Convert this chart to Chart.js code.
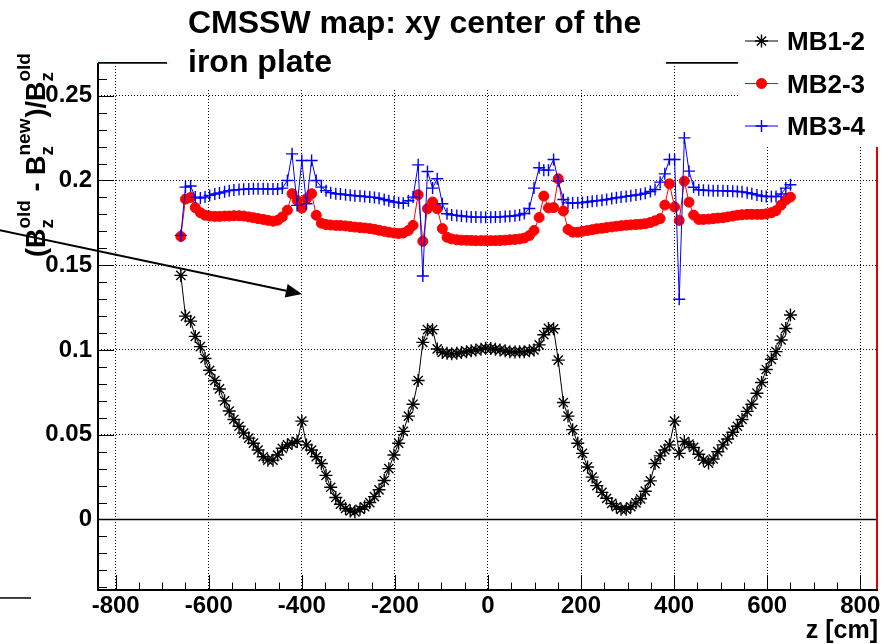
<!DOCTYPE html>
<html>
<head>
<meta charset="utf-8">
<script src="https://cdn.jsdelivr.net/npm/chart.js@4.4.0/dist/chart.umd.min.js"></script>
<style>
  html, body { margin: 0; padding: 0; background: #fff; }
  #wrap { position: relative; width: 893px; height: 644px; }
</style>
</head>
<body>
<div id="wrap"><canvas id="fieldChart" width="893" height="644"></canvas></div>
<script>
// z position of each sample along the iron plate (cm)
const zPoints = [
  -660, -650, -639, -629, -618, -608, -598, -587, -577, -566,
  -556, -546, -535, -525, -514, -504, -494, -483, -473, -462,
  -452, -442, -431, -421, -410, -400, -390, -379, -369, -358,
  -348, -338, -327, -317, -306, -296, -286, -275, -265, -254,
  -244, -234, -223, -213, -202, -192, -182, -171, -161, -150,
  -140, -130, -119, -109, -98, -88, -78, -67, -57, -46,
  -36, -26, -15, -5, 6, 16, 26, 37, 47, 58,
  68, 78, 89, 99, 110, 120, 130, 141, 151, 162,
  172, 182, 193, 203, 214, 224, 234, 245, 255, 266,
  276, 286, 297, 307, 318, 328, 338, 349, 359, 370,
  380, 390, 401, 411, 422, 432, 442, 453, 463, 474,
  484, 494, 505, 515, 526, 536, 546, 557, 567, 578,
  588, 598, 609, 619, 630, 640, 650
];

// relative Bz difference between old and new map, per station gap
const mb12 = [
  0.144, 0.120, 0.117, 0.108, 0.102, 0.095, 0.088, 0.082, 0.077, 0.070,
  0.064, 0.059, 0.055, 0.051, 0.048, 0.045, 0.041, 0.037, 0.035, 0.035,
  0.038, 0.042, 0.044, 0.045, 0.046, 0.058, 0.044, 0.041, 0.037, 0.033,
  0.026, 0.019, 0.013, 0.009, 0.0065, 0.005, 0.0045, 0.006, 0.0075, 0.010,
  0.0135, 0.0175, 0.023, 0.030, 0.038, 0.045, 0.052, 0.061, 0.068, 0.082,
  0.1045, 0.112, 0.112, 0.1006, 0.0985, 0.098, 0.0978, 0.098, 0.0985, 0.099,
  0.0995, 0.100, 0.1005, 0.101, 0.1008, 0.1005, 0.100, 0.0995, 0.099, 0.0988,
  0.099, 0.099, 0.0995, 0.100, 0.103, 0.109, 0.1127, 0.1125, 0.094, 0.069,
  0.061, 0.053, 0.045, 0.039, 0.031, 0.025, 0.020, 0.016, 0.0125, 0.0095,
  0.0075, 0.006, 0.006, 0.0075, 0.0098, 0.0122, 0.0167, 0.0228, 0.033, 0.0375,
  0.041, 0.044, 0.058, 0.039, 0.046, 0.0445, 0.0425, 0.0385, 0.035, 0.0333,
  0.0357, 0.040, 0.044, 0.0475, 0.0515, 0.055, 0.059, 0.0638, 0.068, 0.0745,
  0.0808, 0.0885, 0.0945, 0.099, 0.1059, 0.1127, 0.1206
];
const mb23 = [
  0.167, 0.189, 0.190, 0.184, 0.181, 0.1795, 0.179, 0.1788, 0.1788, 0.179,
  0.179, 0.1792, 0.1792, 0.179, 0.1785, 0.178, 0.1775, 0.177, 0.1765, 0.176,
  0.1765, 0.1785, 0.1825, 0.1922, 0.1882, 0.1837, 0.1892, 0.1922, 0.1795, 0.1748,
  0.174, 0.1737, 0.1735, 0.1734, 0.1732, 0.1728, 0.1725, 0.1722, 0.172, 0.1716,
  0.1712, 0.1706, 0.170, 0.1695, 0.169, 0.1687, 0.169, 0.1705, 0.1735, 0.1916,
  0.1641, 0.1833, 0.1873, 0.1833, 0.1716, 0.1665, 0.1655, 0.165, 0.1648, 0.1647,
  0.1646, 0.1645, 0.1645, 0.1645, 0.1645, 0.1645, 0.1646, 0.1648, 0.165, 0.1652,
  0.1655, 0.166, 0.1675, 0.1705, 0.1782, 0.1908, 0.1838, 0.184, 0.201, 0.182,
  0.1711, 0.1695, 0.1695, 0.170, 0.1705, 0.171, 0.1715, 0.1718, 0.1722, 0.1726,
  0.173, 0.1733, 0.1736, 0.1738, 0.174, 0.1742, 0.1745, 0.1752, 0.1762, 0.1775,
  0.1855, 0.198, 0.1843, 0.1764, 0.1996, 0.1872, 0.1796, 0.177, 0.177, 0.1772,
  0.1775, 0.1778, 0.178, 0.1785, 0.179, 0.1795, 0.1798, 0.180, 0.180, 0.180,
  0.180, 0.1803, 0.181, 0.1822, 0.1855, 0.1885, 0.1902
];
const mb34 = [
  0.1676, 0.1961, 0.1967, 0.1902, 0.1896, 0.1902, 0.1912, 0.192, 0.1926, 0.1933,
  0.194, 0.1944, 0.1946, 0.1948, 0.195, 0.1951, 0.1951, 0.1951, 0.195, 0.1949,
  0.195, 0.1955, 0.200, 0.2157, 0.1853, 0.2118, 0.1863, 0.2118, 0.200, 0.1961,
  0.194, 0.1928, 0.1922, 0.192, 0.1916, 0.1913, 0.191, 0.1908, 0.1905, 0.1902,
  0.190, 0.1895, 0.1888, 0.188, 0.1873, 0.1869, 0.1865, 0.188, 0.1902, 0.2092,
  0.1436, 0.2053, 0.1955, 0.201, 0.1863, 0.1804, 0.1797, 0.1794, 0.179, 0.1787,
  0.1785, 0.1784, 0.1783, 0.1783, 0.1783, 0.1784, 0.1785, 0.1787, 0.1789, 0.1792,
  0.1797, 0.1805, 0.1835, 0.1955, 0.2075, 0.2061, 0.2061, 0.2124, 0.1996, 0.1888,
  0.1868, 0.1867, 0.1868, 0.187, 0.1873, 0.1877, 0.188, 0.1884, 0.1888, 0.1893,
  0.1898, 0.1902, 0.1906, 0.191, 0.1914, 0.1918, 0.1925, 0.1935, 0.1947, 0.199,
  0.2039, 0.2124, 0.2124, 0.1299, 0.2251, 0.2055, 0.196, 0.1945, 0.1942, 0.1941,
  0.194, 0.194, 0.1939, 0.1938, 0.1937, 0.1935, 0.1933, 0.1928, 0.1922, 0.1915,
  0.1908, 0.1905, 0.1905, 0.1905, 0.192, 0.1955, 0.1975
];

const seriesNames = ['MB1-2', 'MB2-3', 'MB3-4'];
const xTicks = [-800, -600, -400, -200, 0, 200, 400, 600, 800];
const xTickLabels = ['-800', '-600', '-400', '-200', '0', '200', '400', '600', '800'];
const yTicks = [0, 0.05, 0.1, 0.15, 0.2, 0.25];
const yTickLabels = ['0', '0.05', '0.1', '0.15', '0.2', '0.25'];
const titleLines = ['CMSSW map: xy center of the', 'iron plate'];
const xTitle = 'z [cm]';

const xRange = [-838, 836];
const yRange = [-0.0416, 0.2693];

// arrow annotation, in axis units
const arrowFrom = { z: -1050, v: 0.1707 };
const arrowTo = { z: -400, v: 0.133 };

const FONT = "'Liberation Sans', Arial, Helvetica, sans-serif";

function toPoints(values) {
  return values.map((v, i) => ({ x: zPoints[i], y: v }));
}

// ROOT-like frame: inner ticks, zero line, arrow, title and legend panes
const rootDecor = {
  id: 'rootDecor',
  beforeDatasetsDraw(chart) {
    const { ctx, chartArea: a, scales: { y } } = chart;
    const y0 = Math.round(y.getPixelForValue(0)) + 0.5;
    ctx.save();
    ctx.strokeStyle = '#000';
    ctx.lineWidth = 1.5;
    ctx.beginPath();
    ctx.moveTo(a.left, y0);
    ctx.lineTo(a.right, y0);
    ctx.stroke();
    ctx.restore();
  },
  afterDraw(chart) {
    const { ctx, chartArea: a, scales: { x, y } } = chart;
    ctx.save();

    // frame
    ctx.lineWidth = 2;
    ctx.strokeStyle = '#e00000';
    ctx.beginPath();
    ctx.moveTo(a.right, a.bottom);
    ctx.lineTo(a.right, a.top);
    ctx.lineTo(a.left, a.top);
    ctx.stroke();
    ctx.strokeStyle = '#000';
    ctx.lineWidth = 1;
    ctx.beginPath();
    ctx.moveTo(a.left, a.top - 0.5);
    ctx.lineTo(a.right, a.top - 0.5);
    ctx.stroke();
    ctx.lineWidth = 2;
    ctx.beginPath();
    ctx.moveTo(a.left, a.top);
    ctx.lineTo(a.left, a.bottom);
    ctx.lineTo(a.right + 1, a.bottom);
    ctx.stroke();

    // inner ticks
    ctx.lineWidth = 1;
    ctx.beginPath();
    for (let v = -0.04; v <= 0.265; v += 0.01) {
      const vv = Math.round(v * 100) / 100;
      const major = Math.abs(vv * 20 - Math.round(vv * 20)) < 1e-6;
      const py = Math.round(y.getPixelForValue(vv)) + 0.5;
      ctx.moveTo(a.left, py);
      ctx.lineTo(a.left + (major ? 16 : 9), py);
    }
    for (let v = -800; v <= 800; v += 50) {
      const major = v % 200 === 0;
      const px = Math.round(x.getPixelForValue(v)) + 0.5;
      ctx.moveTo(px, a.bottom);
      ctx.lineTo(px, a.bottom - (major ? 15 : 7.5));
    }
    ctx.stroke();

    // arrow
    const ax0 = x.getPixelForValue(arrowFrom.z), ay0 = y.getPixelForValue(arrowFrom.v);
    const ax1 = x.getPixelForValue(arrowTo.z), ay1 = y.getPixelForValue(arrowTo.v);
    const ang = Math.atan2(ay1 - ay0, ax1 - ax0);
    const headLen = 16, headHalf = 7;
    const bx = ax1 - headLen * Math.cos(ang), by = ay1 - headLen * Math.sin(ang);
    ctx.lineWidth = 2;
    ctx.beginPath();
    ctx.moveTo(ax0, ay0);
    ctx.lineTo(bx, by);
    ctx.stroke();
    ctx.fillStyle = '#000';
    ctx.beginPath();
    ctx.moveTo(ax1, ay1);
    ctx.lineTo(bx + headHalf * Math.sin(ang), by - headHalf * Math.cos(ang));
    ctx.lineTo(bx - headHalf * Math.sin(ang), by + headHalf * Math.cos(ang));
    ctx.closePath();
    ctx.fill();

    // short line at lower left
    const ly = y.getPixelForValue(-0.0463);
    ctx.lineWidth = 1.5;
    ctx.beginPath();
    ctx.moveTo(x.getPixelForValue(-1050), ly);
    ctx.lineTo(x.getPixelForValue(-982), ly);
    ctx.stroke();

    // title pane
    ctx.fillStyle = '#fff';
    ctx.fillRect(167, 0, 499, 89);
    ctx.fillStyle = '#000';
    ctx.font = 'bold 32px ' + FONT;
    ctx.textAlign = 'left';
    ctx.textBaseline = 'alphabetic';
    ctx.fillText(titleLines[0], 188, 33);
    ctx.fillText(titleLines[1], 188, 72);

    // legend pane
    ctx.fillStyle = '#fff';
    ctx.fillRect(738, 0, 155, 147);
    ctx.font = 'bold 26px ' + FONT;
    chart.data.datasets.forEach((ds, i) => {
      const cy = 41 + i * 42.5;
      ctx.strokeStyle = ds.borderColor;
      ctx.lineWidth = 1;
      ctx.beginPath();
      ctx.moveTo(745, cy);
      ctx.lineTo(778, cy);
      ctx.stroke();
      ctx.fillStyle = ds.pointBackgroundColor;
      ctx.lineWidth = ds.pointBorderWidth;
      Chart.helpers.drawPoint(ctx, {
        pointStyle: ds.pointStyle, radius: ds.pointRadius, rotation: 0,
        borderWidth: ds.pointBorderWidth
      }, 761.5, cy);
      ctx.fillStyle = '#000';
      ctx.fillText(ds.label, 787, cy + 9);
    });

    // x axis title
    ctx.font = 'bold 25px ' + FONT;
    ctx.textAlign = 'right';
    ctx.fillText(xTitle, 878, 638);

    // y axis title (B_z^old - B_z^new)/B_z^old, rotated
    ctx.translate(45, 257);
    ctx.rotate(-Math.PI / 2);
    ctx.textAlign = 'left';
    const big = 'bold 27px ' + FONT, small = 'bold 19px ' + FONT;
    let cx = 0;
    const put = (txt, f, dy) => { ctx.font = f; ctx.fillText(txt, cx, dy); return ctx.measureText(txt).width; };
    const bzScript = (sup) => {
      ctx.font = small;
      const w1 = ctx.measureText(sup).width, w2 = ctx.measureText('z').width;
      ctx.fillText(sup, cx, -15);
      ctx.fillText('z', cx, 8);
      cx += Math.max(w1, w2) + 1;
    };
    cx += put('(B', big, 0);
    bzScript('old');
    cx += put(' - B', big, 0);
    bzScript('new');
    cx += put(')/B', big, 0);
    bzScript('old');

    ctx.restore();
  }
};

const dsBase = { showLine: true, fill: false, tension: 0, borderWidth: 1 };

new Chart(document.getElementById('fieldChart'), {
  type: 'line',
  data: {
    datasets: [
      Object.assign({}, dsBase, {
        label: seriesNames[0], data: toPoints(mb12),
        borderColor: '#000000', pointBorderColor: '#000000', pointBackgroundColor: '#000000',
        pointStyle: 'star', pointRadius: 6.5, pointBorderWidth: 1.4, order: 2
      }),
      Object.assign({}, dsBase, {
        label: seriesNames[1], data: toPoints(mb23),
        borderColor: '#ff0000', pointBorderColor: '#ff0000', pointBackgroundColor: '#ff0000',
        pointStyle: 'circle', pointRadius: 5, pointBorderWidth: 1, order: 1
      }),
      Object.assign({}, dsBase, {
        label: seriesNames[2], data: toPoints(mb34),
        borderColor: '#0000ff', pointBorderColor: '#0000ff', pointBackgroundColor: '#0000ff',
        pointStyle: 'cross', pointRadius: 6, pointBorderWidth: 1.4, order: 0
      })
    ]
  },
  options: {
    responsive: false,
    animation: false,
    devicePixelRatio: 1,
    layout: { padding: { top: 63, right: 16, left: 0, bottom: 0 } },
    plugins: { legend: { display: false }, tooltip: { enabled: false }, title: { display: false } },
    scales: {
      x: {
        type: 'linear',
        min: xRange[0], max: xRange[1],
        afterFit(s) { s.height = 54; },
        afterBuildTicks(s) { s.ticks = xTicks.map(v => ({ value: v })); },
        grid: { color: '#000', lineWidth: 1, drawTicks: false },
        border: { display: false, dash: [1, 2] },
        ticks: {
          color: '#000', padding: 2, maxRotation: 0, autoSkip: false,
          font: { family: FONT, size: 24, weight: 'bold' },
          callback: (v) => xTickLabels[xTicks.indexOf(v)]
        }
      },
      y: {
        type: 'linear',
        min: yRange[0], max: yRange[1],
        afterFit(s) { s.width = 98; },
        afterBuildTicks(s) { s.ticks = yTicks.map(v => ({ value: v })); },
        grid: { color: '#000', lineWidth: 1, drawTicks: false },
        border: { display: false, dash: [1, 2] },
        ticks: {
          color: '#000', padding: 6, autoSkip: false,
          font: { family: FONT, size: 24, weight: 'bold' },
          callback: (v) => yTickLabels[yTicks.indexOf(v)]
        }
      }
    }
  },
  plugins: [rootDecor]
});
</script>
</body>
</html>
